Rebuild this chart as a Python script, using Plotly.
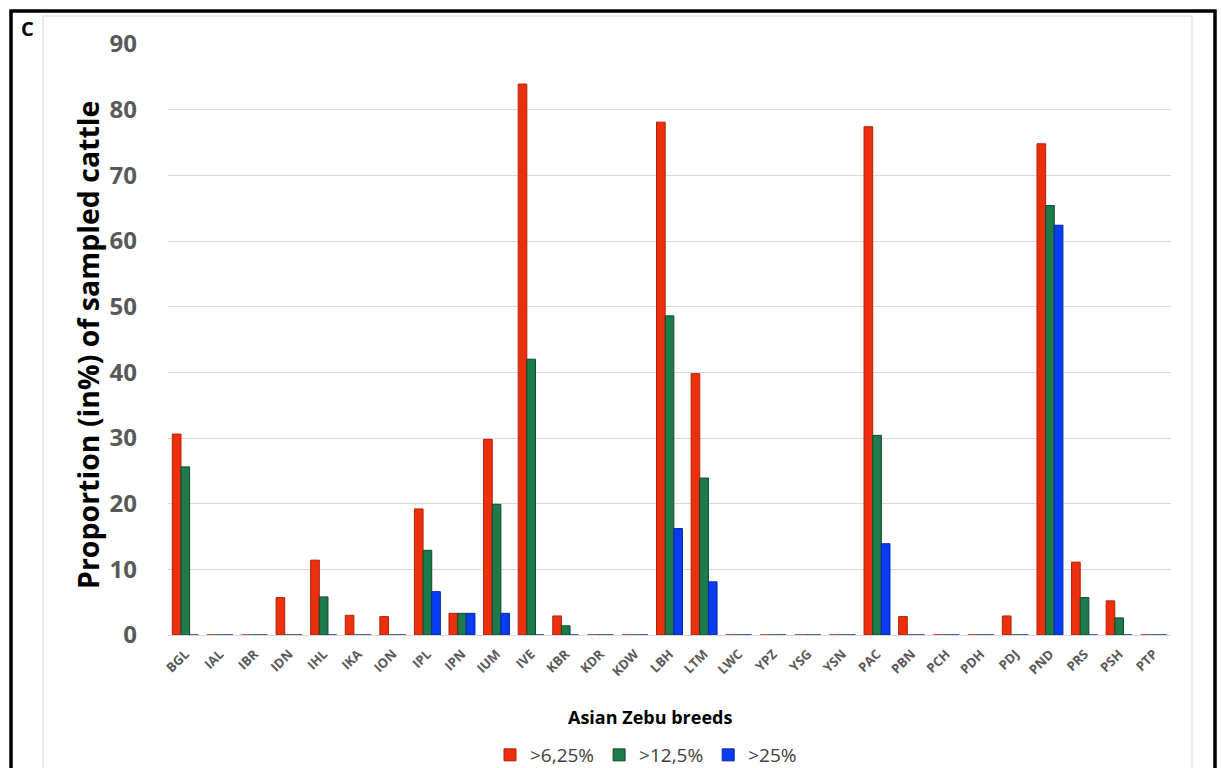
import plotly.graph_objects as go

# Asian Zebu breeds and the share (%) of sampled cattle above each threshold
breeds = ["BGL", "IAL", "IBR", "IDN", "IHL", "IKA", "ION", "IPL", "IPN", "IUM",
          "IVE", "KBR", "KDR", "KDW", "LBH", "LTM", "LWC", "YPZ", "YSG", "YSN",
          "PAC", "PBN", "PCH", "PDH", "PDJ", "PND", "PRS", "PSH", "PTP"]
above_6_25 = [30.6, 0, 0, 5.7, 11.4, 3.0, 2.8, 19.2, 3.3, 29.8,
              83.9, 2.9, 0, 0, 78.1, 39.8, 0, 0, 0, 0,
              77.4, 2.8, 0, 0, 2.9, 74.8, 11.1, 5.2, 0]
above_12_5 = [25.6, 0, 0, 0, 5.8, 0, 0, 12.9, 3.3, 19.9,
              42.0, 1.4, 0, 0, 48.6, 23.9, 0, 0, 0, 0,
              30.4, 0, 0, 0, 0, 65.4, 5.7, 2.6, 0]
above_25 = [0, 0, 0, 0, 0, 0, 0, 6.6, 3.3, 3.3,
            0, 0, 0, 0, 16.2, 8.1, 0, 0, 0, 0,
            13.9, 0, 0, 0, 0, 62.4, 0, 0, 0]

series = [
    (">6,25%", above_6_25, "#EC300E", "#B51F05"),
    (">12,5%", above_12_5, "#1C7A4B", "#0E4A2B"),
    (">25%", above_25, "#0A3CF6", "#0626A8"),
]

fig = go.Figure()
for name, vals, color, edge in series:
    fig.add_trace(go.Bar(
        x=breeds, y=vals, name=name,
        marker=dict(color=color, line=dict(color=edge, width=1)),
    ))

# plot area geometry in pixels, used to place the frame and the free text
L, R, T, B = 168, 1171, 44, 635
W, H = R - L, B - T
px = lambda v: (v - L) / W
py = lambda v: (B - v) / H

font = "Open Sans, Lato, Arial, sans-serif"

fig.update_layout(
    width=1221, height=768,
    margin=dict(l=L, r=1221 - R, t=T, b=768 - B, autoexpand=False),
    paper_bgcolor="white", plot_bgcolor="white",
    barmode="group", bargap=0.25, bargroupgap=0,
    font=dict(family=font),
    showlegend=True,
    legend=dict(orientation="h", x=px(646), xanchor="center",
                y=py(755), yanchor="middle",
                font=dict(size=19, color="#404040"),
                itemwidth=30, tracegroupgap=0),
    xaxis=dict(
        tickangle=-45,
        tickfont=dict(size=13, color="#595959", family=font, weight="bold"),
        showgrid=False, showline=False, ticks="", automargin=False,
        ticklabelstandoff=8,
    ),
    yaxis=dict(
        range=[0, 90], dtick=10, automargin=False,
        tickfont=dict(size=24, color="#595959", family=font, weight="bold"),
        gridcolor="#D9D9D9", gridwidth=1,
        zeroline=True, zerolinecolor="#D9D9D9", zerolinewidth=1,
        showline=False, ticklabelstandoff=30,
    ),
    shapes=[
        dict(type="rect", xref="paper", yref="paper",
             x0=px(43), x1=px(1192), y0=py(800), y1=py(16),
             line=dict(color="#D9D9D9", width=1), layer="below"),
        dict(type="rect", xref="paper", yref="paper",
             x0=px(11), x1=px(1215), y0=py(800), y1=py(11),
             line=dict(color="black", width=3.5)),
    ],
    annotations=[
        dict(text="<b>Proportion (in%) of sampled cattle</b>", textangle=-90,
             xref="paper", yref="paper", x=px(88), y=py(345),
             xanchor="center", yanchor="middle", showarrow=False,
             font=dict(size=28.5, color="black", family=font)),
        dict(text="<b>Asian Zebu breeds</b>",
             xref="paper", yref="paper", x=px(650), y=py(717),
             xanchor="center", yanchor="middle", showarrow=False,
             font=dict(size=18, color="black", family=font)),
        dict(text="<b>C</b>",
             xref="paper", yref="paper", x=px(27), y=py(28),
             xanchor="center", yanchor="middle", showarrow=False,
             font=dict(size=20, color="black", family=font)),
    ],
)

fig.write_html("out.html")
